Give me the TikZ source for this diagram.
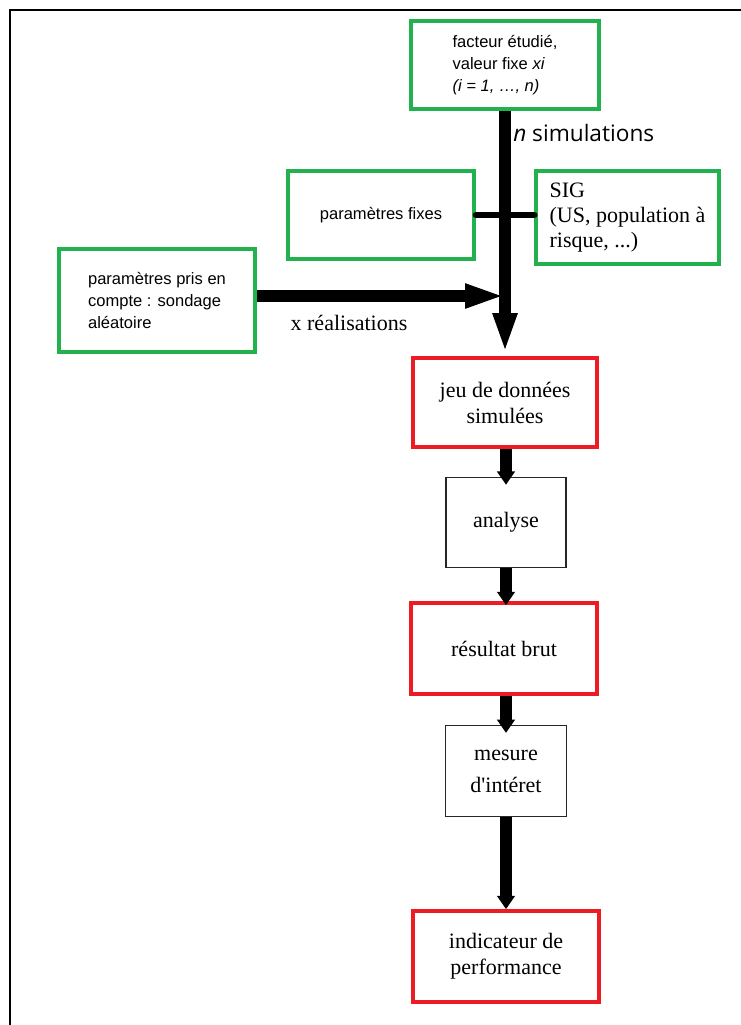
\documentclass[tikz,border=0pt]{standalone}
\usepackage{fontspec}
\setmainfont{Liberation Serif}
\newfontfamily\arialf{Liberation Sans}
\newfontfamily\segoef{Open Sans}
\usetikzlibrary{arrows.meta}
\definecolor{pgreen}{RGB}{34,177,76}
\definecolor{pred}{RGB}{237,28,36}
\begin{document}
\begin{tikzpicture}[x=0.75pt,y=-0.75pt,
  base/.style={rectangle,inner sep=0pt,align=center},
  greenbox/.style={base,draw=pgreen,line width=3pt,font=\arialf\fontsize{12.4pt}{16.5pt}\selectfont},
  sigbox/.style={base,draw=pgreen,line width=3pt,font=\fontsize{16.5pt}{18.5pt}\selectfont},
  redbox/.style={base,draw=pred,line width=3pt,font=\fontsize{16.5pt}{19.5pt}\selectfont},
  blackbox/.style={base,draw=black!85,line width=1.1pt,font=\fontsize{16.5pt}{24pt}\selectfont},
  bigarrow/.style={line width=9pt,-{Triangle[width=16.5pt,length=30pt]}},
  smallarrow/.style={line width=9pt,-{Triangle[width=13pt,length=10pt]}},
  lbl/.style={inner sep=0pt}
]
\useasboundingbox (0,0) rectangle (741,1025);
% frame
\draw[line width=1.5pt] (10,1025) -- (10,10) -- (741,10);

% nodes
\node[greenbox,minimum width=141pt,minimum height=66pt,align=left] (facteur) at (505,65)
  {facteur étudié,\\valeur fixe \textit{xi}\\\textit{(i = 1, …, n)}};
\node[greenbox,minimum width=139.5pt,minimum height=66pt] (pfixes) at (381,215) {paramètres fixes};
\node[sigbox,minimum width=137pt,minimum height=70pt,align=left] (sig) at (627.5,217.5)
  {SIG\\(US, population à\\risque, ...)};
\node[greenbox,minimum width=147pt,minimum height=77pt,align=left] (ppris) at (157,300.5)
  {paramètres pris en\\compte : sondage\\aléatoire};
\node[redbox,minimum width=138pt,minimum height=67pt] (jeu) at (505,402.5) {jeu de données\\simulées};
\node[blackbox,minimum width=90pt,minimum height=67.5pt] (analyse) at (506,522.5) {analyse};
\node[redbox,minimum width=139.5pt,minimum height=68pt] (resultat) at (504,648.5) {résultat brut};
\node[blackbox,minimum width=91pt,minimum height=68pt] (mesure) at (506,771) {mesure\\d\textquotesingle intéret};
\node[redbox,minimum width=139.5pt,minimum height=68pt] (indic) at (506,956.5) {indicateur de\\performance};

% labels
\node[lbl,anchor=west,font=\segoef\fontsize{17pt}{20pt}\selectfont] (nsim) at (513,133) {\textit{n} simulations};
\node[lbl,font=\fontsize{16.5pt}{19pt}\selectfont] (xreal) at (349,323) {x réalisations};

% junction and column
\coordinate (j) at (505,296);
\coordinate (col) at (506,0);

% connectors
\draw[line width=5pt,line cap=round] (pfixes.east) -- (pfixes.east -| sig.west);
\draw[bigarrow,shorten >=2pt] (facteur.south) -- (jeu.north);
\draw[bigarrow] (ppris.east |- j) -- (j);
\draw[smallarrow] (jeu.south -| col) -- ([yshift=-6pt]analyse.north -| col);
\draw[smallarrow] (analyse.south -| col) -- ([yshift=-3pt]resultat.north -| col);
\draw[smallarrow] (resultat.south -| col) -- ([yshift=-6pt]mesure.north -| col);
\draw[smallarrow] (mesure.south -| col) -- (indic.north -| col);
\end{tikzpicture}
\end{document}
